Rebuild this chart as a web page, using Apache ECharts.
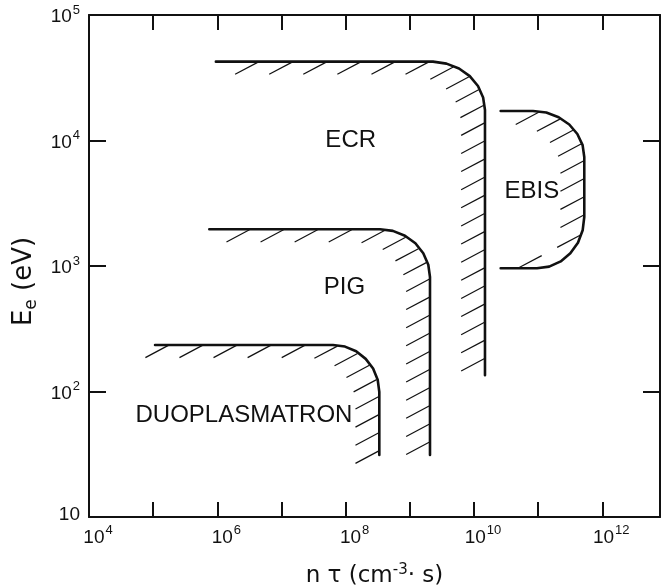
<!DOCTYPE html>
<html>
<head>
<meta charset="utf-8">
<script src="https://cdn.jsdelivr.net/npm/echarts@6/dist/echarts.min.js"></script>
<style>
html,body{margin:0;padding:0;background:#fff;}
#chart{width:669px;height:587px;}
</style>
</head>
<body>
<div id="chart"></div>
<script>
// ---- axis ranges & tick labels ----
const xMin = 1e4;
const xMax = Math.pow(10, 12.9);
const yMin = 10;
const yMax = 1e5;
const xLabelExponents = [4, 6, 8, 10, 12];
const yLabelExponents = [1, 2, 3, 4, 5];

// ---- boundary curves: [n*tau (cm^-3 s), Ee (eV)] ----
const duoplasmatron = [[1.07e5, 235], [6.35e7, 235], [9.77e7, 228], [1.46e8, 209], [2.055e8, 182], [2.68e8, 152.5],
                       [3.16e8, 124], [3.35e8, 99.1], [3.35e8, 31.2]];
const pig = [[7.5e5, 1960], [3.43e8, 1960], [5.45e8, 1904], [8.41e8, 1743], [1.223e9, 1517], [1.623e9, 1265],
             [1.943e9, 1024], [2.065e9, 817], [2.065e9, 31.2]];
const ecr = [[9.5e5, 4.25e4], [2.3e9, 4.25e4], [3.73e9, 4.1e4], [5.85e9, 3.75e4], [8.61e9, 3.26e4], [1.156e10, 2.72e4],
             [1.39e10, 2.2e4], [1.486e10, 1.75e4], [1.486e10, 135]];
const ebis = [[2.61e10, 1.718e4], [8.32e10, 1.718e4], [1.341e11, 1.669e4], [2.093e11, 1.533e4], [3.06e11, 1.342e4],
              [4.09e11, 1.127e4], [4.94e11, 9190], [5.245e11, 7387], [5.245e11, 2458], [4.95e11, 1925], [4.18e11, 1534],
              [3.18e11, 1262], [2.25e11, 1088], [1.488e11, 989], [9.6e10, 959], [2.61e10, 959]];

// ---- region labels ----
const regionNames = ['DUOPLASMATRON', 'PIG', 'ECR', 'EBIS'];
const regionLabelX = [2.6e6, 9.6e7, 1.2e8, 8.0e10];
const regionLabelY = [64, 673, 1.0e4, 3.9e3];

const shapes = [duoplasmatron, pig, ecr, ebis];
const INK = '#111';
const TICK_FONT = 'Liberation Sans';

function expOf(v) {
  const e = Math.log10(v);
  const r = Math.round(e);
  return Math.abs(e - r) < 1e-6 ? r : null;
}

function hatchSeries(points) {
  const ang = 28 * Math.PI / 180;
  const nx = Math.sin(ang), ny = Math.cos(ang);   // normal of hatch family
  const hx = -Math.cos(ang), hy = Math.sin(ang);  // hatch direction (down-left)
  const spacing = 16, len = 27, skipStart = 14;
  return {
    type: 'custom',
    coordinateSystem: 'cartesian2d',
    xAxisIndex: 0, yAxisIndex: 0,
    data: points,
    silent: true,
    z: 3,
    renderItem: function (params, api) {
      if (params.dataIndex !== 0) return null;
      const pts = points.map(p => api.coord(p));
      const children = [];
      let arc = 0;
      for (let i = 0; i < pts.length - 1; i++) {
        const a = pts[i], b = pts[i + 1];
        let tx = b[0] - a[0], ty = b[1] - a[1];
        const tl = Math.hypot(tx, ty);
        const fa = (a[0] * nx + a[1] * ny) / spacing;
        const fb = (b[0] * nx + b[1] * ny) / spacing;
        if (fa !== fb && tl > 0) {
          const lo = Math.min(fa, fb), hi = Math.max(fa, fb);
          tx /= tl; ty /= tl;
          const inx = -ty, iny = tx;
          const sgn = (hx * inx + hy * iny) >= 0 ? 1 : -1;
          for (let k = Math.ceil(lo); k <= Math.floor(hi); k++) {
            const t = (k - fa) / (fb - fa);
            if (t < 0 || t >= 1) continue;
            if (arc + t * tl < skipStart) continue;
            const px = a[0] + t * (b[0] - a[0]);
            const py = a[1] + t * (b[1] - a[1]);
            children.push({
              type: 'line',
              shape: { x1: px + sgn * hx, y1: py + sgn * hy, x2: px + sgn * hx * len, y2: py + sgn * hy * len },
              style: { stroke: INK, lineWidth: 1.2 }
            });
          }
        }
        arc += tl;
      }
      return { type: 'group', children: children };
    }
  };
}

const supRich = {
  b: { fontSize: 19, lineHeight: 23, verticalAlign: 'bottom', fontFamily: TICK_FONT, color: INK },
  b1: { fontSize: 19, fontFamily: TICK_FONT, color: INK, padding: [0, 0, 4, 0] },
  s: { fontSize: 13, lineHeight: 13, verticalAlign: 'top', fontFamily: TICK_FONT, color: INK, padding: [0, 0, 0, 1] }
};

const frameLine = { show: true, lineStyle: { color: INK, width: 2 } };

const option = {
  animation: false,
  backgroundColor: '#fff',
  grid: { left: 89, right: 9, top: 15, bottom: 70, containLabel: false, outerBoundsMode: 'none' },
  xAxis: [{
    type: 'log', logBase: 10, min: xMin, max: xMax, interval: 1,
    position: 'bottom',
    axisLine: frameLine,
    axisTick: { show: true, inside: true, length: 15, lineStyle: { color: INK, width: 2 } },
    minorTick: { show: false },
    splitLine: { show: false },
    axisLabel: {
      show: true, margin: 7, padding: [0, 0, 0, 18],
      formatter: function (v) {
        const e = expOf(v);
        if (e === null || xLabelExponents.indexOf(e) < 0) return '';
        return '{b|10}{s|' + e + '}';
      },
      rich: supRich
    },
    name: 'n τ (cm{sup|-3}· s)',
    nameLocation: 'middle',
    nameGap: 46,
    nameTextStyle: {
      color: INK,
      rich: {
        sup: { fontSize: 15, lineHeight: 15, verticalAlign: 'top', fontFamily: 'DejaVu Sans', color: INK }
      },
      fontSize: 23, lineHeight: 26, verticalAlign: 'top', fontFamily: 'DejaVu Sans'
    }
  }, {
    type: 'log', logBase: 10, min: xMin, max: xMax, interval: 1,
    position: 'top',
    axisLine: frameLine,
    axisTick: { show: true, inside: true, length: 15, lineStyle: { color: INK, width: 2 } },
    minorTick: { show: false },
    splitLine: { show: false },
    axisLabel: { show: false }
  }],
  yAxis: [{
    type: 'log', logBase: 10, min: yMin, max: yMax, interval: 1,
    position: 'left',
    axisLine: frameLine,
    axisTick: { show: true, inside: true, length: 17, lineStyle: { color: INK, width: 2 } },
    minorTick: { show: false },
    splitLine: { show: false },
    axisLabel: {
      show: true, margin: 9,
      formatter: function (v) {
        const e = expOf(v);
        if (e === null || yLabelExponents.indexOf(e) < 0) return '';
        if (e === 1) return '{b1|10}';
        return '{b|10}{s|' + e + '}';
      },
      rich: supRich
    },
    name: 'E{sub|e} (eV)',
    nameLocation: 'middle',
    nameGap: 35,
    nameTextStyle: {
      color: INK,
      fontSize: 26, fontFamily: 'DejaVu Sans',
      padding: [0, 31, 0, 0],
      rich: {
        sub: { fontSize: 17, lineHeight: 17, verticalAlign: 'bottom', fontFamily: 'DejaVu Sans', color: INK }
      },
      lineHeight: 31
    }
  }, {
    type: 'log', logBase: 10, min: yMin, max: yMax, interval: 1,
    position: 'right',
    axisLine: frameLine,
    axisTick: { show: true, inside: true, length: 17, lineStyle: { color: INK, width: 2 } },
    minorTick: { show: false },
    splitLine: { show: false },
    axisLabel: { show: false }
  }],
  series: [].concat(
    shapes.map(s => ({
      type: 'line',
      xAxisIndex: 0, yAxisIndex: 0,
      data: s,
      showSymbol: false,
      symbol: 'none',
      silent: true,
      z: 4,
      lineStyle: { color: INK, width: 2.6, cap: 'round', join: 'round' }
    })),
    shapes.map(s => hatchSeries(s)),
    [{
      type: 'scatter',
      xAxisIndex: 0, yAxisIndex: 0,
      symbolSize: 0,
      itemStyle: { color: 'rgba(0,0,0,0)' },
      silent: true,
      data: regionNames.map((n, i) => ({ name: n, value: [regionLabelX[i], regionLabelY[i]] })),
      label: {
        show: true, position: 'inside',
        formatter: p => p.name,
        fontSize: 24, fontFamily: 'Liberation Sans', color: INK, opacity: 1
      },
      z: 5
    }]
  )
};

const chart = echarts.init(document.getElementById('chart'), null, { renderer: 'canvas' });
chart.setOption(option);
</script>
</body>
</html>
